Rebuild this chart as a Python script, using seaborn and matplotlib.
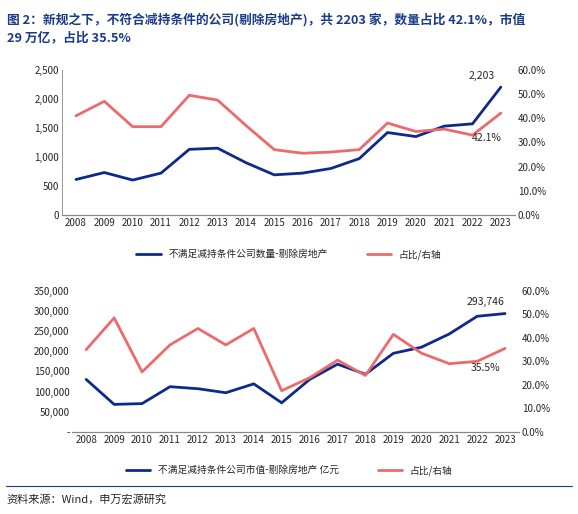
import numpy as np
import pandas as pd
import matplotlib
matplotlib.use("Agg")
import matplotlib.pyplot as plt
import seaborn as sns
from matplotlib.ticker import FuncFormatter
from matplotlib.lines import Line2D

sns.set_style("white")
plt.rcParams['font.family'] = ['Noto Sans CJK SC', 'DejaVu Sans']

years = list(range(2008, 2024))
count_top = [610, 730, 600, 720, 1130, 1150, 900, 690, 720, 800, 970, 1420, 1350, 1530, 1570, 2203]
pct_top = [0.41, 0.47, 0.365, 0.365, 0.495, 0.475, 0.37, 0.27, 0.255, 0.26, 0.27, 0.38, 0.345, 0.355, 0.33, 0.421]
mv_bot = [130000, 68000, 70000, 112000, 107000, 97000, 119000, 72000, 130000, 168000, 143000, 195000, 210000, 243000, 287000, 293746]
pct_bot = [0.35, 0.485, 0.255, 0.37, 0.44, 0.37, 0.44, 0.175, 0.23, 0.305, 0.24, 0.415, 0.335, 0.29, 0.30, 0.355]

BLUE = "#0d2a8a"
RED = "#ec6a6c"
df = pd.DataFrame({"year": years, "c1": count_top, "p1": pct_top, "c2": mv_bot, "p2": pct_bot})

fig = plt.figure(figsize=(5.78, 5.14), dpi=100)
fig.text(0.012, 0.975, "图 2：新规之下，不符合减持条件的公司(剔除房地产)，共 2203 家，数量占比 42.1%，市值\n29 万亿，占比 35.5%",
         color="#1a3a8c", fontsize=9.2, fontweight="bold", va="top", linespacing=1.5)

def style(ax, ax2):
    for a in (ax, ax2):
        for s in ["top", "right"]:
            a.spines[s].set_visible(False)
        a.spines["bottom"].set_color("#888888")
        a.spines["left"].set_color("#888888")
        a.spines["left"].set_linewidth(0.6)
        a.tick_params(labelsize=7, length=0, pad=2)
    ax2.spines["left"].set_visible(False)
    ax.set_xlabel(""); ax.set_ylabel(""); ax2.set_ylabel("")
    ax.set_xticks(years)
    ax.set_xlim(2007.5, 2023.5)
    ax2.yaxis.set_major_formatter(FuncFormatter(lambda v, _: f"{v*100:.1f}%"))

# top chart
ax = fig.add_axes([0.107, 0.582, 0.784, 0.282])
ax2 = ax.twinx()
sns.lineplot(data=df, x="year", y="c1", ax=ax, color=BLUE, linewidth=2)
sns.lineplot(data=df, x="year", y="p1", ax=ax2, color=RED, linewidth=2)
ax.set_ylim(0, 2500); ax.set_yticks(range(0, 2501, 500))
ax.yaxis.set_major_formatter(FuncFormatter(lambda v, _: f"{int(v):,}"))
ax2.set_ylim(0, 0.6); ax2.set_yticks(np.arange(0, 0.61, 0.1))
style(ax, ax2)
ax.annotate(f"{count_top[-1]:,}", (years[-1], count_top[-1]), xytext=(-14, 6), textcoords="offset points", fontsize=7.5, ha="center")
ax2.annotate(f"{pct_top[-1]*100:.1f}%", (years[-1], pct_top[-1]), xytext=(-10, -20), textcoords="offset points", fontsize=7.5, ha="center")
fig.legend([Line2D([], [], color=BLUE, lw=2), Line2D([], [], color=RED, lw=2)],
           ["不满足减持条件公司数量-剔除房地产", "占比/右轴"], loc="center", bbox_to_anchor=(0.5, 0.505),
           ncol=2, frameon=False, fontsize=7, columnspacing=4, handlelength=2.5)

# bottom chart
bx = fig.add_axes([0.125, 0.160, 0.773, 0.274])
bx2 = bx.twinx()
sns.lineplot(data=df, x="year", y="c2", ax=bx, color=BLUE, linewidth=2)
sns.lineplot(data=df, x="year", y="p2", ax=bx2, color=RED, linewidth=2)
bx.set_ylim(0, 350000); bx.set_yticks(range(0, 350001, 50000))
bx.yaxis.set_major_formatter(FuncFormatter(lambda v, _: "-" if v == 0 else f"{int(v):,}"))
bx2.set_ylim(0, 0.6); bx2.set_yticks(np.arange(0, 0.61, 0.1))
style(bx, bx2)
bx.spines["left"].set_visible(False)
bx.annotate(f"{mv_bot[-1]:,}", (years[-1], mv_bot[-1]), xytext=(-14, 6), textcoords="offset points", fontsize=7.5, ha="center")
bx2.annotate(f"{pct_bot[-1]*100:.1f}%", (years[-1], pct_bot[-1]), xytext=(-14, -16), textcoords="offset points", fontsize=7.5, ha="center")
fig.legend([Line2D([], [], color=BLUE, lw=2), Line2D([], [], color=RED, lw=2)],
           ["不满足减持条件公司市值-剔除房地产 亿元", "占比/右轴"], loc="center", bbox_to_anchor=(0.5, 0.085),
           ncol=2, frameon=False, fontsize=7, columnspacing=4, handlelength=2.5)

fig.add_artist(Line2D([0.01, 0.99], [0.055, 0.055], color="#1a3a8c", lw=0.8))
fig.text(0.012, 0.028, "资料来源：Wind，申万宏源研究", fontsize=8, va="center")

fig.savefig("out.png", dpi=100)
